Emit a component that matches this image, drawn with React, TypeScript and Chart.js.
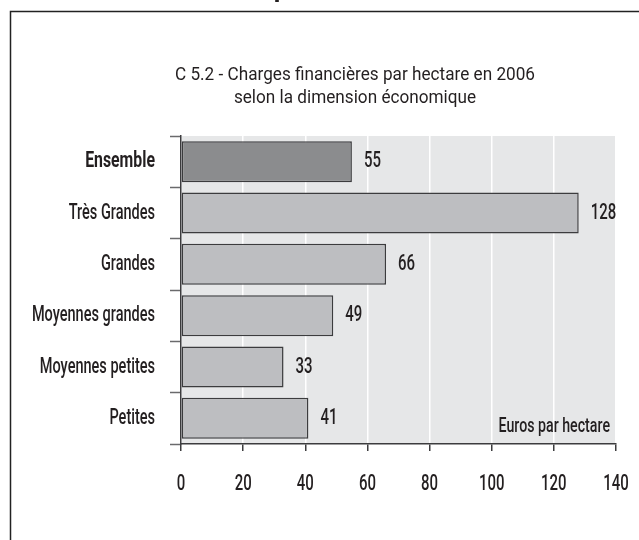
import React, { useEffect, useRef } from "react";
import { Chart, registerables } from "chart.js";

Chart.register(...registerables);

const categories = ["Ensemble", "Très Grandes", "Grandes", "Moyennes grandes", "Moyennes petites", "Petites"];
const values = [55, 128, 66, 49, 33, 41];
const barColors = ["#8b8c8e", "#bdbec1", "#bdbec1", "#bdbec1", "#bdbec1", "#bdbec1"];
const titleLines = ["C 5.2 - Charges financières par hectare en 2006", "selon la dimension économique"];
const unitLabel = "Euros par hectare";
const headingFragment = "p";
const xMin = 0;
const xMax = 140;
const xStep = 20;

const FONT = "Roboto, 'Liberation Sans', 'DejaVu Sans', sans-serif";
const TEXT = "#231f20";

function drawCondensed(
  ctx: CanvasRenderingContext2D,
  text: string,
  x: number,
  y: number,
  font: string,
  sx: number,
  align: CanvasTextAlign
) {
  ctx.save();
  ctx.font = font;
  ctx.textAlign = align;
  ctx.textBaseline = "middle";
  ctx.translate(x, y);
  ctx.scale(sx, 1);
  ctx.fillText(text, 0, 0);
  ctx.restore();
}

const decorPlugin = {
  id: "decor",
  beforeDraw(chart: any) {
    const { ctx, chartArea } = chart;
    ctx.save();
    ctx.fillStyle = "#ffffff";
    ctx.fillRect(0, 0, chart.width, chart.height);
    ctx.fillStyle = "#e6e7e8";
    ctx.fillRect(chartArea.left, chartArea.top, chartArea.right - chartArea.left - 1, chartArea.bottom - chartArea.top);
    // frame
    ctx.strokeStyle = "#222222";
    ctx.lineWidth = 1.5;
    ctx.beginPath();
    ctx.moveTo(10.5, chart.height);
    ctx.lineTo(10.5, 11.5);
    ctx.lineTo(chart.width, 11.5);
    ctx.stroke();
    // cut-off heading above frame
    ctx.fillStyle = TEXT;
    ctx.font = "bold 26px " + FONT;
    ctx.textAlign = "center";
    ctx.textBaseline = "alphabetic";
    ctx.fillText(headingFragment, 281, -3);
    // title (narrow regular)
    const titleFont = "19px " + FONT;
    ctx.font = titleFont;
    const sx = 360 / ctx.measureText(titleLines[0]).width;
    drawCondensed(ctx, titleLines[0], 355, 75, titleFont, sx, "center");
    drawCondensed(ctx, titleLines[1], 355, 98, titleFont, sx, "center");
    ctx.restore();
  },
  afterDraw(chart: any) {
    const { ctx, chartArea } = chart;
    const meta = chart.getDatasetMeta(0);
    ctx.save();
    ctx.fillStyle = TEXT;
    const numFont = "500 22px " + FONT;
    // value labels
    meta.data.forEach((bar: any, i: number) => {
      drawCondensed(ctx, String(values[i]), bar.x + 12, bar.y, numFont, 0.68, "left");
    });
    // x tick labels
    const xs = chart.scales.x;
    xs.ticks.forEach((t: any, i: number) => {
      drawCondensed(ctx, String(t.value), xs.getPixelForTick(i), 484, numFont, 0.68, "center");
    });
    // y tick labels
    const ys = chart.scales.y;
    ys.ticks.forEach((t: any, i: number) => {
      const label = categories[i];
      const bold = i === 0;
      drawCondensed(
        ctx,
        label,
        ys.right - 26,
        ys.getPixelForTick(i),
        (bold ? "bold 22px " : "500 22px ") + FONT,
        bold ? 0.72 : 0.66,
        "right"
      );
    });
    // unit label
    drawCondensed(ctx, unitLabel, chartArea.right - 6, chartArea.bottom - 17, "500 20px " + FONT, 0.71, "right");
    ctx.restore();
  },
};

export default function App() {
  const ref = useRef<HTMLCanvasElement | null>(null);
  useEffect(() => {
    document.body.style.margin = "0";
    const canvas = ref.current;
    if (!canvas) return;
    const chart = new Chart(canvas, {
      type: "bar",
      data: {
        labels: categories,
        datasets: [
          {
            data: values,
            backgroundColor: barColors,
            borderColor: "#3c3c3e",
            borderWidth: 1.5,
            borderSkipped: false,
            barPercentage: 0.8,
            categoryPercentage: 1,
          },
        ],
      },
      options: {
        indexAxis: "y",
        animation: false,
        responsive: false,
        maintainAspectRatio: false,
        devicePixelRatio: 1,
        layout: { padding: { left: 10, top: 136, right: 23, bottom: 36 } },
        plugins: {
          legend: { display: false },
          title: { display: false },
          tooltip: { enabled: false },
        },
        scales: {
          x: {
            type: "linear",
            min: xMin,
            max: xMax,
            afterFit(scale: any) {
              scale.height = 60;
              scale.paddingLeft = 0;
              scale.paddingRight = 0;
            },
            ticks: {
              stepSize: xStep,
              color: "rgba(0,0,0,0)",
              padding: 20,
              font: { family: FONT, size: 12 },
            },
            grid: {
              color: "#ffffff",
              lineWidth: 1.5,
              tickColor: "#3c3c3e",
              tickLength: 7,
              tickWidth: 1.5,
            },
            border: { display: true, color: "#3c3c3e", width: 1.5 },
          },
          y: {
            type: "category",
            afterFit(scale: any) {
              scale.width = 171;
              scale.paddingTop = 0;
              scale.paddingBottom = 0;
            },
            ticks: {
              color: "rgba(0,0,0,0)",
              padding: 15,
              font: { family: FONT, size: 12 },
            },
            grid: {
              offset: true,
              drawOnChartArea: false,
              tickColor: "#6a6a6c",
              tickLength: 11,
              tickWidth: 1.5,
            },
            border: { display: true, color: "#3c3c3e", width: 1.5 },
          },
        },
      },
      plugins: [decorPlugin],
    });
    return () => chart.destroy();
  }, []);
  return (
    <div style={{ width: 639, height: 540 }}>
      <canvas ref={ref} width={639} height={540} style={{ display: "block", width: 639, height: 540 }} />
    </div>
  );
}
